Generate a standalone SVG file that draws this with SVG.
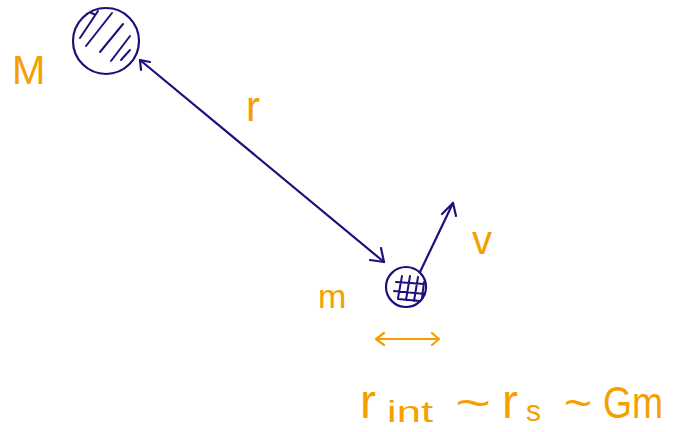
<svg xmlns="http://www.w3.org/2000/svg" width="673" height="432" viewBox="0 0 673 432">
<style>
.ink{fill:none;stroke:#1f0f7a;stroke-width:2.2;stroke-linecap:round;stroke-linejoin:round}
.hat{fill:none;stroke:#1f0f7a;stroke-width:2;stroke-linecap:round}
.or{fill:none;stroke:#f5a000;stroke-width:2.2;stroke-linecap:round;stroke-linejoin:round}
.lbl{fill:#f5a000;font-family:"Liberation Sans",sans-serif}
</style>
<rect width="673" height="432" fill="#fff"/>
<g id="M">
<circle cx="106" cy="41" r="33" class="ink"/>
<path class="hat" d="M80 38 L98 11 M86 46 L112 13 M100 52 L123 24 M111 61 L130 36 M121 60 L130 50 M94 14 L91 13"/>
<text x="12" y="84" class="lbl" font-size="40">M</text>
</g>
<g id="m">
<circle cx="406" cy="287" r="20" class="ink"/>
<path class="hat" d="M396 282 L424 284 M394 291 L425 294 M398 299 L420 301 M402 276 L398 298 M410 276 L406 300 M418 277 L414 301 M424 282 L422 298"/>
<text x="318" y="308" class="lbl" font-size="34">m</text>
</g>
<g id="labels">
<text x="246" y="121" class="lbl" font-size="42">r</text>
<text x="472" y="254" class="lbl" font-size="40">v</text>
<text x="360" y="418" class="lbl" font-size="48">r</text>
<text x="387" y="422" class="lbl" font-size="30" textLength="46" lengthAdjust="spacingAndGlyphs">int</text>
<text x="455" y="418" class="lbl" font-size="44" textLength="36" lengthAdjust="spacingAndGlyphs">~</text>
<text x="502" y="418" class="lbl" font-size="48">r</text>
<text x="526" y="421" class="lbl" font-size="30">s</text>
<text x="564" y="418" class="lbl" font-size="44" textLength="28" lengthAdjust="spacingAndGlyphs">~</text>
<text x="603" y="418" class="lbl" font-size="44" textLength="60" lengthAdjust="spacingAndGlyphs">Gm</text>
</g>
<g id="connectors">
<path class="ink" d="M140 60 L384 262"/>
<path class="ink" d="M141 70 L140 60 L150 62"/>
<path class="ink" d="M370 260 L384 262 L381 248"/>
<path class="ink" d="M420 272 L453 203"/>
<path class="ink" d="M442 214 L453 203 L456 216"/>
<path class="or" d="M376 339 L439 339 M384 333 L376 339 L384 345 M432 333 L439 339 L432 345"/>
</g>
</svg>
